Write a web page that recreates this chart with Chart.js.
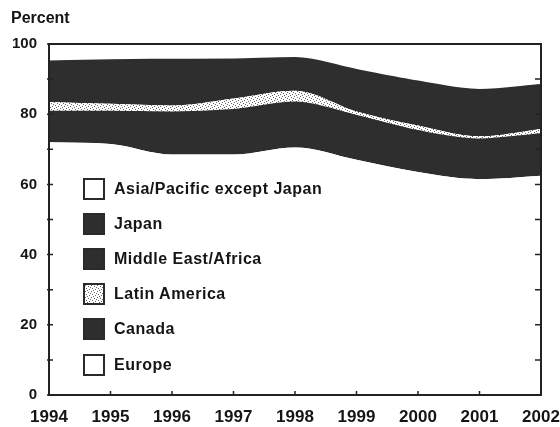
<!DOCTYPE html>
<html>
<head>
<meta charset="utf-8">
<script src="https://cdn.jsdelivr.net/npm/chart.js@4"></script>
<style>
  html, body { margin: 0; padding: 0; background: #fff; }
  #wrap { position: relative; width: 560px; height: 427px; }
  #percent {
    position: absolute; left: 11px; top: 9px;
    font: bold 16px 'Liberation Sans', Arial, sans-serif; color: #151515;
  }
  #legend { position: absolute; left: 83px; top: 171px; }
  .item { display: flex; align-items: center; height: 35.2px; }
  .box { width: 18px; height: 18px; border: 2px solid #2a2a2a; margin-right: 9px; }
  .label { font: bold 16px 'Liberation Sans', Arial, sans-serif; letter-spacing: 0.5px; color: #151515; }
</style>
</head>
<body>
<div id="wrap">
  <canvas id="chart" width="560" height="427"></canvas>
  <div id="percent">Percent</div>
  <div id="legend"></div>
</div>
<script>
// data: shares by region, bottom of the stack first
const years = ['1994', '1995', '1996', '1997', '1998', '1999', '2000', '2001', '2002'];
const europe      = [72.0, 71.5, 68.5, 68.5, 70.5, 67.0, 63.5, 61.5, 62.5];
const canada      = [8.7, 9.2, 12.0, 12.7, 12.8, 12.5, 11.7, 11.3, 11.8];
const latinAm     = [2.8, 2.3, 2.0, 3.3, 3.4, 1.3, 1.6, 0.9, 1.5];
const midEastAfr  = [3.5, 3.6, 3.8, 3.5, 3.2, 3.4, 3.6, 3.7, 3.6];
const japan       = [8.0, 8.8, 9.2, 7.6, 6.1, 8.4, 8.9, 9.5, 8.9];
const asiaPacific = [5.0, 4.6, 4.5, 4.4, 4.0, 7.4, 10.7, 13.1, 11.7];

const DARK = '#2e2e2e';

// speckled fill for Latin America
function makeStipple() {
    const c = document.createElement('canvas');
    c.width = 6; c.height = 6;
    const g = c.getContext('2d');
    g.fillStyle = '#fff';
    g.fillRect(0, 0, 6, 6);
    g.fillStyle = '#666';
    [[0, 0], [3, 1], [1, 3], [4, 4], [5, 2], [2, 5]].forEach(([x, y]) => g.fillRect(x, y, 1, 1));
    return c;
}
const stippleCanvas = makeStipple();
const stipple = stippleCanvas.getContext('2d').createPattern(stippleCanvas, 'repeat');

const series = [
    { label: 'Europe', data: europe, color: '#fff', css: '#fff' },
    { label: 'Canada', data: canada, color: DARK, css: DARK },
    { label: 'Latin America', data: latinAm, color: stipple, css: 'url(' + stippleCanvas.toDataURL() + ')' },
    { label: 'Middle East/Africa', data: midEastAfr, color: DARK, css: DARK },
    { label: 'Japan', data: japan, color: DARK, css: DARK },
    { label: 'Asia/Pacific except Japan', data: asiaPacific, color: '#fff', css: '#fff' },
];

// inward ticks and the frame round the plot
const framePlugin = {
    id: 'frame',
    afterDraw(chart) {
        const { ctx, chartArea: a, scales: { x, y } } = chart;
        ctx.save();
        ctx.strokeStyle = '#222';
        ctx.lineWidth = 1.5;
        for (let v = 0; v <= 100; v += 10) {
            const py = y.getPixelForValue(v);
            ctx.beginPath();
            ctx.moveTo(a.left - 2, py); ctx.lineTo(a.left + 4, py);
            ctx.moveTo(a.right - 6, py); ctx.lineTo(a.right, py);
            ctx.stroke();
        }
        years.forEach((yr, i) => {
            const px = x.getPixelForValue(i);
            ctx.beginPath();
            ctx.moveTo(px, a.bottom); ctx.lineTo(px, a.bottom - 4);
            ctx.stroke();
        });
        ctx.lineWidth = 2;
        ctx.strokeRect(a.left, a.top, a.right - a.left, a.bottom - a.top);
        ctx.restore();
    }
};

new Chart(document.getElementById('chart'), {
    type: 'line',
    data: {
        labels: years,
        datasets: series.map((s, i) => ({
            label: s.label,
            data: s.data,
            backgroundColor: s.color,
            borderColor: s.color === DARK ? DARK : 'rgba(0,0,0,0)',
            borderWidth: s.color === DARK ? 2 : 0,
            pointRadius: 0,
            cubicInterpolationMode: 'monotone',
            fill: i === 0 ? 'origin' : '-1'
        }))
    },
    options: {
        responsive: false,
        animation: false,
        layout: { padding: { top: 44, right: 0, left: 0, bottom: 0 } },
        plugins: { legend: { display: false }, tooltip: { enabled: false } },
        scales: {
            x: {
                offset: false,
                grid: { display: false, drawTicks: false },
                border: { display: false },
                ticks: {
                    color: '#151515', padding: 12, maxRotation: 0, autoSkip: false,
                    font: { family: "'Liberation Sans', Arial, sans-serif", size: 17, weight: 'bold' }
                },
                afterFit: s => { s.height = 32; s.paddingRight = 19; s.paddingLeft = 0; }
            },
            y: {
                stacked: true,
                min: 0, max: 100,
                grid: { display: false, drawTicks: false },
                border: { display: false },
                ticks: {
                    stepSize: 10, color: '#151515', padding: 12,
                    callback: v => (v % 20 === 0 ? v : ''),
                    font: { family: "'Liberation Sans', Arial, sans-serif", size: 15, weight: 'bold' }
                },
                afterFit: s => { s.width = 49; }
            }
        }
    },
    plugins: [framePlugin]
});

// legend inside the plot, top entry first
const legend = document.getElementById('legend');
series.slice().reverse().forEach(s => {
    const row = document.createElement('div');
    row.className = 'item';
    row.innerHTML = `<div class="box" style="background:${s.css}"></div><span class="label">${s.label}</span>`;
    legend.appendChild(row);
});
</script>
</body>
</html>
